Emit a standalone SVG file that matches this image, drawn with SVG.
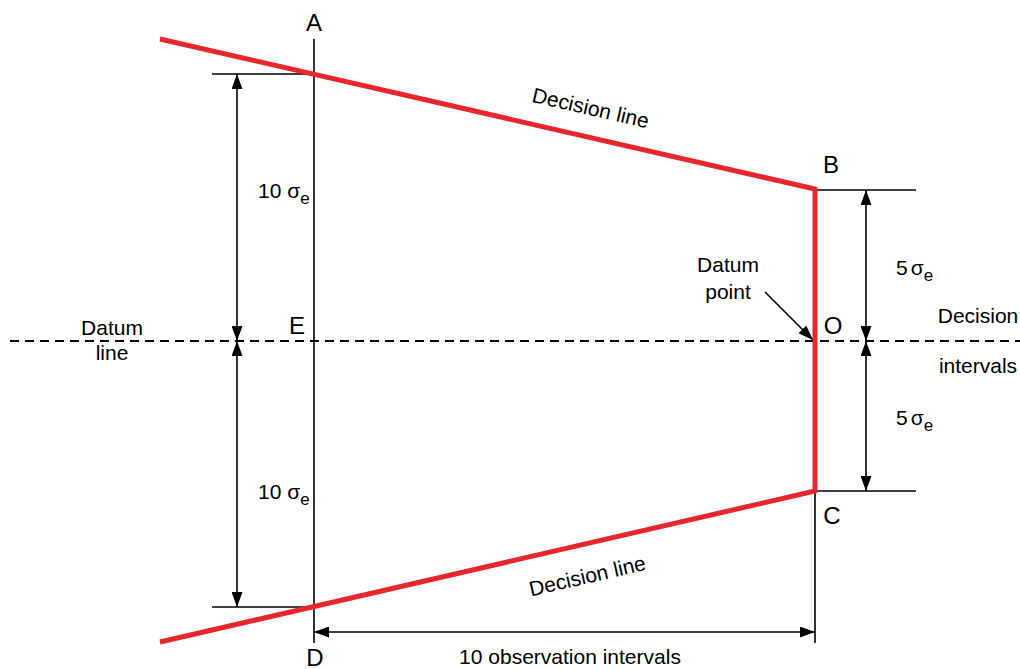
<svg xmlns="http://www.w3.org/2000/svg" width="1020" height="669" viewBox="0 0 1020 669">
<style>
.t{font-family:"Liberation Sans",Arial,sans-serif;font-size:21px;fill:#000}
.L{font-family:"Liberation Sans",Arial,sans-serif;font-size:24px;fill:#000}
.k{stroke:#000;stroke-width:1.6;fill:none}
.d{stroke:#000;stroke-width:1.8;fill:none;stroke-dasharray:9,6}
.r{stroke:#e8262b;stroke-width:5;fill:none;stroke-linejoin:miter}
.a{stroke:#000;stroke-width:1.6;fill:none;marker-end:url(#ah)}
</style>
<defs>
<marker id="ah" viewBox="0 0 15 11" refX="15" refY="5.5" markerWidth="15" markerHeight="11" markerUnits="userSpaceOnUse" orient="auto">
<path d="M0,0 L15,5.5 L0,11 z" fill="#000"/>
</marker>
</defs>
<g id="connectors">
<line class="d" x1="10" y1="341" x2="1020" y2="341"/>
<line class="k" x1="314" y1="39" x2="314" y2="643"/>
<line class="k" x1="212" y1="74" x2="314" y2="74"/>
<line class="k" x1="212" y1="607" x2="314" y2="607"/>
<line class="k" x1="815" y1="190" x2="916" y2="190"/>
<line class="k" x1="815" y1="491" x2="916" y2="491"/>
<line class="k" x1="815" y1="491" x2="815" y2="643"/>
<line class="a" x1="237" y1="207" x2="237" y2="74"/>
<line class="a" x1="237" y1="207" x2="237" y2="341"/>
<line class="a" x1="237" y1="474" x2="237" y2="341"/>
<line class="a" x1="237" y1="474" x2="237" y2="607"/>
<line class="a" x1="866" y1="265" x2="866" y2="190"/>
<line class="a" x1="866" y1="265" x2="866" y2="341"/>
<line class="a" x1="866" y1="416" x2="866" y2="341"/>
<line class="a" x1="866" y1="416" x2="866" y2="491"/>
<line class="a" x1="565" y1="632" x2="314" y2="632"/>
<line class="a" x1="565" y1="632" x2="815" y2="632"/>
<line class="a" x1="765" y1="292" x2="813" y2="340"/>
</g>
<g id="decision-boundary">
<polyline class="r" points="160,39 815,189 815,491 160,642"/>
</g>
<g id="labels">
<text class="L" x="314" y="31" text-anchor="middle">A</text>
<text class="L" x="831" y="173" text-anchor="middle">B</text>
<text class="L" x="832" y="524" text-anchor="middle">C</text>
<text class="L" x="315" y="666" text-anchor="middle">D</text>
<text class="L" x="297" y="334" text-anchor="middle">E</text>
<text class="L" x="833" y="334" text-anchor="middle">O</text>
<text class="t" x="112" y="335" text-anchor="middle">Datum</text>
<text class="t" x="112" y="360" text-anchor="middle">line</text>
<text class="t" x="728" y="272" text-anchor="middle">Datum</text>
<text class="t" x="728" y="299" text-anchor="middle">point</text>
<text class="t" x="978" y="323" text-anchor="middle">Decision</text>
<text class="t" x="978" y="373" text-anchor="middle">intervals</text>
<text class="t" x="258" y="198">10 σ<tspan dy="6" font-size="17">e</tspan></text>
<text class="t" x="258" y="499">10 σ<tspan dy="6" font-size="17">e</tspan></text>
<text class="t" x="896" y="275">5<tspan dx="3">σ</tspan><tspan dy="6" font-size="17">e</tspan></text>
<text class="t" x="896" y="425">5<tspan dx="3">σ</tspan><tspan dy="6" font-size="17">e</tspan></text>
<text class="t" x="570" y="664" text-anchor="middle">10 observation intervals</text>
<text class="t" transform="translate(589,115) rotate(12.9)" text-anchor="middle">Decision line</text>
<text class="t" transform="translate(589,583) rotate(-13)" text-anchor="middle">Decision line</text>
</g>
</svg>
